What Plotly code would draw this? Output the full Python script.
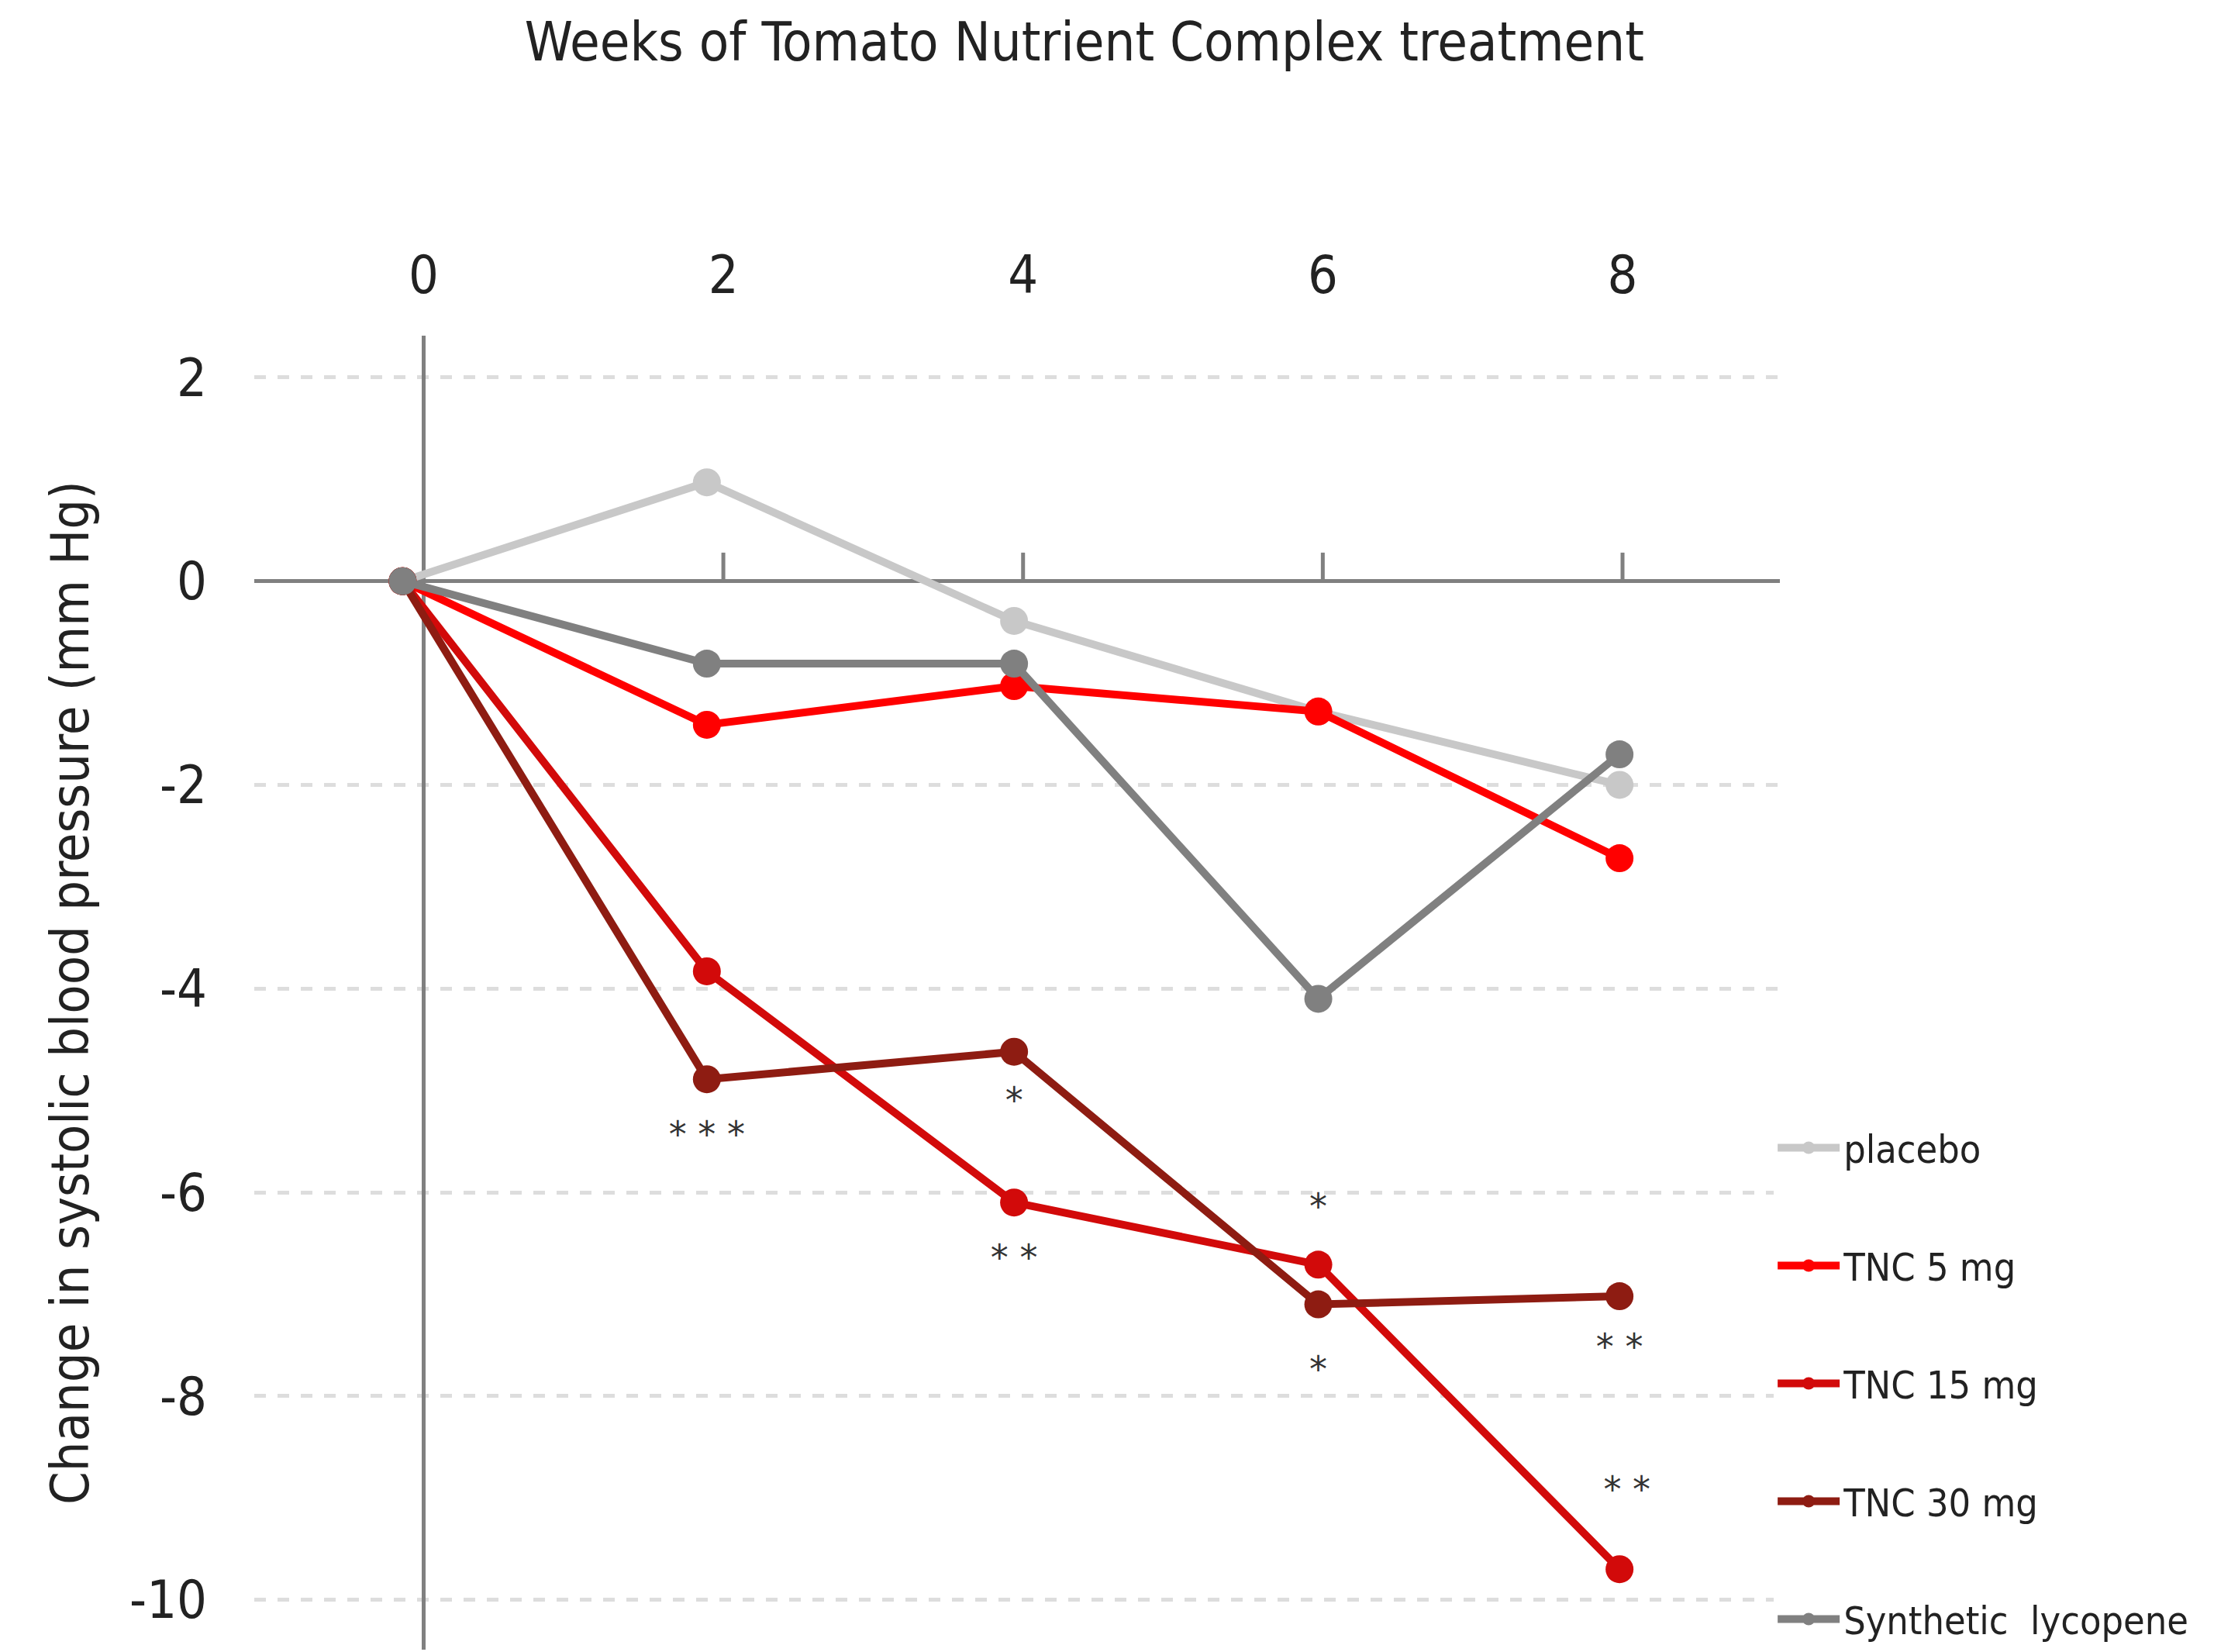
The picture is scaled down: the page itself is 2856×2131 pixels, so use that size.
import plotly.graph_objects as go

## Data
weeks = [-0.14, 1.89, 3.94, 5.97, 7.98]
placebo = [0, 0.97, -0.39, -1.28, -2.0]
tnc5 = [0, -1.41, -1.03, -1.28, -2.72]
tnc15 = [0, -3.83, -6.1, -6.71, -9.7]
tnc30 = [0, -4.89, -4.62, -7.1, -7.02]
synthetic = [0, -0.81, -0.81, -4.1, -1.7]

star_x = [1.89, 3.94, 3.94, 5.97, 5.97, 7.98, 8.03]
star_y = [-5.46, -5.13, -6.67, -6.17, -7.77, -7.55, -8.95]
star_txt = ["* * *", "*", "* *", "*", "*", "* *", "* *"]

x_ticks = [0, 2, 4, 6, 8]
y_ticks = [2, 0, -2, -4, -6, -8, -10]
y_labels = ["2", "0", "-2", "-4", "-6", "-8", "-10"]

FONT = "DejaVu Sans Condensed, Liberation Sans Narrow, Liberation Sans"

series = [("placebo", placebo, "#c8c8c8"),
          ("TNC 5 mg", tnc5, "#ff0000"),
          ("TNC 15 mg", tnc15, "#d20a0a"),
          ("TNC 30 mg", tnc30, "#8e1c12"),
          ("Synthetic  lycopene", synthetic, "#808080")]

fig = go.Figure()
for name, vals, col in series:
    fig.add_trace(go.Scatter(x=weeks, y=vals, name=name, legendgroup=name,
                             mode="lines+markers", line=dict(color=col, width=10),
                             marker=dict(color=col, size=36)))

fig.add_trace(go.Scatter(x=star_x, y=star_y, text=star_txt, mode="text",
                         textfont=dict(size=46, color="#333333", family="DejaVu Sans"),
                         showlegend=False))

# small tick marks on the y=0 axis line
for t in x_ticks[1:]:
    fig.add_shape(type="line", x0=t, x1=t, y0=0, y1=0.28, xref="x", yref="y",
                  line=dict(color="#808080", width=5))

fig.update_layout(
    width=2856, height=2131, plot_bgcolor="white", paper_bgcolor="white",
    margin=dict(l=320, r=568, t=425, b=11),
    font=dict(family=FONT, color="#222222"),
    title=dict(text="Weeks of Tomato Nutrient Complex treatment", x=0.487, xanchor="center",
               y=0.99, yanchor="top", font=dict(size=70, family=FONT, color="#222222")),
    legend=dict(x=0.996, y=0.405, xanchor="left", yanchor="top", tracegroupgap=84,
                font=dict(size=50, family=FONT, color="#222222"), itemwidth=80),
)
fig.update_xaxes(range=[-1.13, 9.05], side="top", tickvals=x_ticks, showgrid=False,
                 zeroline=True, zerolinecolor="#808080", zerolinewidth=5,
                 ticklabelstandoff=40,
                 tickfont=dict(size=68, family=FONT, color="#222222"), ticks="", showline=False)
fig.update_yaxes(range=[-10.49, 2.41], tickvals=y_ticks, ticktext=y_labels, showgrid=True,
                 gridcolor="#dddddd", gridwidth=5, griddash="dash",
                 zeroline=True, zerolinecolor="#808080", zerolinewidth=5,
                 ticklabelstandoff=60,
                 tickfont=dict(size=68, family=FONT, color="#222222"), ticks="",
                 title=dict(text="Change in systolic blood pressure (mm Hg)", standoff=30,
                            font=dict(size=68, family=FONT, color="#222222")))

fig.write_html("out.html")
